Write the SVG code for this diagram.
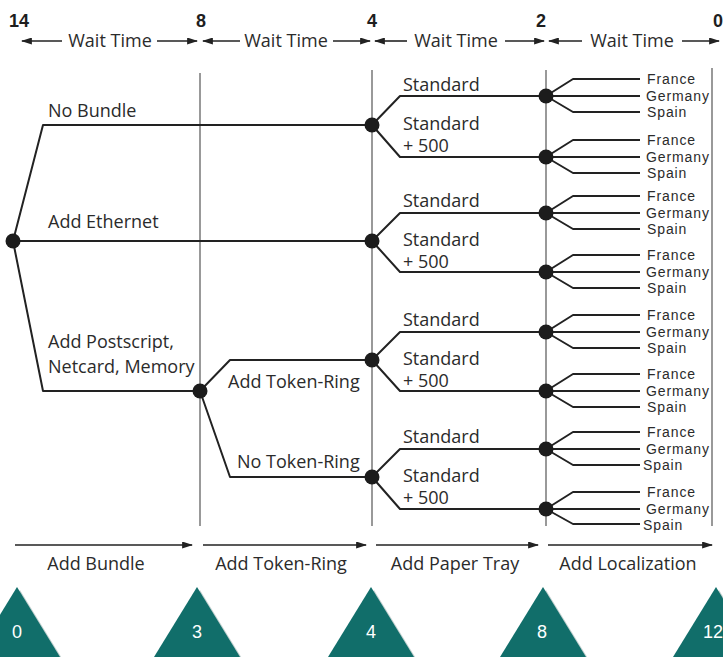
<svg xmlns="http://www.w3.org/2000/svg" width="723" height="657" viewBox="0 0 723 657">
<style>
.lbl{font-family:"Open Sans","Liberation Sans",sans-serif;font-size:18px;fill:#2b2b2b}
.cty{font-family:"Liberation Sans",Arial,sans-serif;font-size:14px;letter-spacing:0.9px;fill:#2b2b2b}
.num{font-family:"Liberation Sans",Arial,sans-serif;font-size:18px;font-weight:bold;fill:#1e1e1e}
.tnum{font-family:"Liberation Sans",Arial,sans-serif;font-size:18px;fill:#ffffff;text-anchor:middle}
.grid{stroke:#555;stroke-width:1.2;fill:none}
.br{stroke:#222;stroke-width:2;fill:none;stroke-linejoin:round}
.ax{stroke:#222;stroke-width:1.6;fill:none}
.dot{fill:#1c1c1c}
.tri{fill:#116e6a}
.sh{fill:#c4d2d1}
.mid{text-anchor:middle}
</style>
<defs>
<marker id="ahb" viewBox="0 0 10 10" refX="9" refY="5" markerWidth="11" markerHeight="7" markerUnits="userSpaceOnUse" orient="auto" preserveAspectRatio="none">
<path d="M0,0 L10,5 L0,10 Z" fill="#222"/>
</marker>
</defs>
<rect width="723" height="657" fill="#ffffff"/>

<g id="timeline-top">
<text class="num" x="9" y="27">14</text>
<text class="num mid" x="201" y="27">8</text>
<text class="num mid" x="372" y="27">4</text>
<text class="num mid" x="541" y="27">2</text>
<text class="num" x="713" y="27">0</text>
<g class="ax">
<line x1="62" y1="41" x2="22" y2="41" marker-end="url(#ahb)"/>
<line x1="157" y1="41" x2="197" y2="41" marker-end="url(#ahb)"/>
<line x1="240" y1="41" x2="203" y2="41" marker-end="url(#ahb)"/>
<line x1="333" y1="41" x2="370" y2="41" marker-end="url(#ahb)"/>
<line x1="407" y1="41" x2="375" y2="41" marker-end="url(#ahb)"/>
<line x1="505" y1="41" x2="544" y2="41" marker-end="url(#ahb)"/>
<line x1="582" y1="41" x2="549" y2="41" marker-end="url(#ahb)"/>
<line x1="682" y1="41" x2="719" y2="41" marker-end="url(#ahb)"/>
</g>
<text class="lbl mid" x="110" y="47">Wait Time</text>
<text class="lbl mid" x="286" y="47">Wait Time</text>
<text class="lbl mid" x="456" y="47">Wait Time</text>
<text class="lbl mid" x="632" y="47">Wait Time</text>
</g>

<g id="gridlines" class="grid">
<line x1="200" y1="73" x2="200" y2="526"/>
<line x1="372" y1="70" x2="372" y2="526"/>
<line x1="546" y1="70" x2="546" y2="526"/>
<line x1="712" y1="68" x2="712" y2="526"/>
</g>

<g id="connectors" class="br">
<path d="M13,241 L43,125 L372,125"/>
<path d="M13,241 L372,241"/>
<path d="M13,241 L43,391 L200,391"/>
<path d="M200,391 L230,360 L372,360"/>
<path d="M200,391 L230,477 L372,477"/>
<path d="M372,125 L400,96 L546,96 M372,125 L400,157 L546,157"/>
<path d="M372,241 L400,213 L546,213 M372,241 L400,272 L546,272"/>
<path d="M372,360 L400,332 L546,332 M372,360 L400,391 L546,391"/>
<path d="M372,477 L400,449 L546,449 M372,477 L400,509 L546,509"/>
<path d="M546,96 L573,79 L640,79 M546,96 L640,96 M546,96 L573,112 L640,112"/>
<path d="M546,157 L573,140 L640,140 M546,157 L640,157 M546,157 L573,173 L640,173"/>
<path d="M546,213 L573,196 L640,196 M546,213 L640,213 M546,213 L573,229 L640,229"/>
<path d="M546,272 L573,255 L640,255 M546,272 L640,272 M546,272 L573,288 L640,288"/>
<path d="M546,332 L573,315 L640,315 M546,332 L640,332 M546,332 L573,348 L640,348"/>
<path d="M546,391 L573,374 L640,374 M546,391 L640,391 M546,391 L573,407 L640,407"/>
<path d="M546,449 L573,432 L640,432 M546,449 L640,449 M546,449 L573,465 L640,465"/>
<path d="M546,509 L573,492 L640,492 M546,509 L640,509 M546,509 L573,524 L640,524"/>
</g>

<g id="n-root"><circle class="dot" cx="13" cy="241" r="7.5"/></g>
<g id="n-bundle-labels">
<text class="lbl" x="48" y="117">No Bundle</text>
<text class="lbl" x="48" y="228">Add Ethernet</text>
<text class="lbl" x="48" y="348">Add Postscript,</text>
<text class="lbl" x="48" y="373">Netcard, Memory</text>
</g>
<g id="n-tokenring"><circle class="dot" cx="200" cy="391" r="7.5"/>
<text class="lbl" x="228" y="388">Add Token-Ring</text>
<text class="lbl" x="237" y="468">No Token-Ring</text>
</g>

<g id="n-tray-1"><circle class="dot" cx="372" cy="125" r="7.5"/>
<text class="lbl" x="403" y="91">Standard</text><text class="lbl" x="403" y="130">Standard</text><text class="lbl" x="403" y="152">+ 500</text></g>
<g id="n-tray-2"><circle class="dot" cx="372" cy="241" r="7.5"/>
<text class="lbl" x="403" y="207">Standard</text><text class="lbl" x="403" y="246">Standard</text><text class="lbl" x="403" y="268">+ 500</text></g>
<g id="n-tray-3"><circle class="dot" cx="372" cy="360" r="7.5"/>
<text class="lbl" x="403" y="326">Standard</text><text class="lbl" x="403" y="365">Standard</text><text class="lbl" x="403" y="387">+ 500</text></g>
<g id="n-tray-4"><circle class="dot" cx="372" cy="477" r="7.5"/>
<text class="lbl" x="403" y="443">Standard</text><text class="lbl" x="403" y="482">Standard</text><text class="lbl" x="403" y="504">+ 500</text></g>

<g id="n-loc-1"><circle class="dot" cx="546" cy="96" r="7.5"/>
<text class="cty" x="647" y="84">France</text><text class="cty" x="646" y="101">Germany</text><text class="cty" x="647" y="117">Spain</text></g>
<g id="n-loc-2"><circle class="dot" cx="546" cy="157" r="7.5"/>
<text class="cty" x="647" y="145">France</text><text class="cty" x="646" y="162">Germany</text><text class="cty" x="647" y="178">Spain</text></g>
<g id="n-loc-3"><circle class="dot" cx="546" cy="213" r="7.5"/>
<text class="cty" x="647" y="201">France</text><text class="cty" x="646" y="218">Germany</text><text class="cty" x="647" y="234">Spain</text></g>
<g id="n-loc-4"><circle class="dot" cx="546" cy="272" r="7.5"/>
<text class="cty" x="647" y="260">France</text><text class="cty" x="646" y="277">Germany</text><text class="cty" x="647" y="293">Spain</text></g>
<g id="n-loc-5"><circle class="dot" cx="546" cy="332" r="7.5"/>
<text class="cty" x="647" y="320">France</text><text class="cty" x="646" y="337">Germany</text><text class="cty" x="647" y="353">Spain</text></g>
<g id="n-loc-6"><circle class="dot" cx="546" cy="391" r="7.5"/>
<text class="cty" x="647" y="379">France</text><text class="cty" x="646" y="396">Germany</text><text class="cty" x="647" y="412">Spain</text></g>
<g id="n-loc-7"><circle class="dot" cx="546" cy="449" r="7.5"/>
<text class="cty" x="647" y="437">France</text><text class="cty" x="646" y="454">Germany</text><text class="cty" x="643" y="470">Spain</text></g>
<g id="n-loc-8"><circle class="dot" cx="546" cy="509" r="7.5"/>
<text class="cty" x="647" y="497">France</text><text class="cty" x="646" y="514">Germany</text><text class="cty" x="643" y="530">Spain</text></g>

<g id="stages">
<g class="ax">
<line x1="15" y1="545" x2="192" y2="545" marker-end="url(#ahb)"/>
<line x1="203" y1="545" x2="366" y2="545" marker-end="url(#ahb)"/>
<line x1="376" y1="545" x2="538" y2="545" marker-end="url(#ahb)"/>
<line x1="548" y1="545" x2="712" y2="545" marker-end="url(#ahb)"/>
</g>
<text class="lbl mid" x="96" y="570">Add Bundle</text>
<text class="lbl mid" x="281" y="570">Add Token-Ring</text>
<text class="lbl mid" x="455" y="570">Add Paper Tray</text>
<text class="lbl mid" x="628" y="570">Add Localization</text>
</g>

<g id="milestones">
<polygon class="sh" points="20,590 63,660 -23,660"/>
<polygon class="tri" points="17,587 60,657 -26,657"/>
<text class="tnum" x="17" y="638">0</text>
<polygon class="sh" points="200,590 243,660 157,660"/>
<polygon class="tri" points="197,587 240,657 154,657"/>
<text class="tnum" x="197" y="638">3</text>
<polygon class="sh" points="374,590 417,660 331,660"/>
<polygon class="tri" points="371,587 414,657 328,657"/>
<text class="tnum" x="371" y="638">4</text>
<polygon class="sh" points="546,590 589,660 503,660"/>
<polygon class="tri" points="543,587 586,657 500,657"/>
<text class="tnum" x="542" y="638">8</text>
<polygon class="sh" points="719,590 762,660 676,660"/>
<polygon class="tri" points="716,587 759,657 673,657"/>
<text class="tnum" x="713" y="638">12</text>
</g>
</svg>
